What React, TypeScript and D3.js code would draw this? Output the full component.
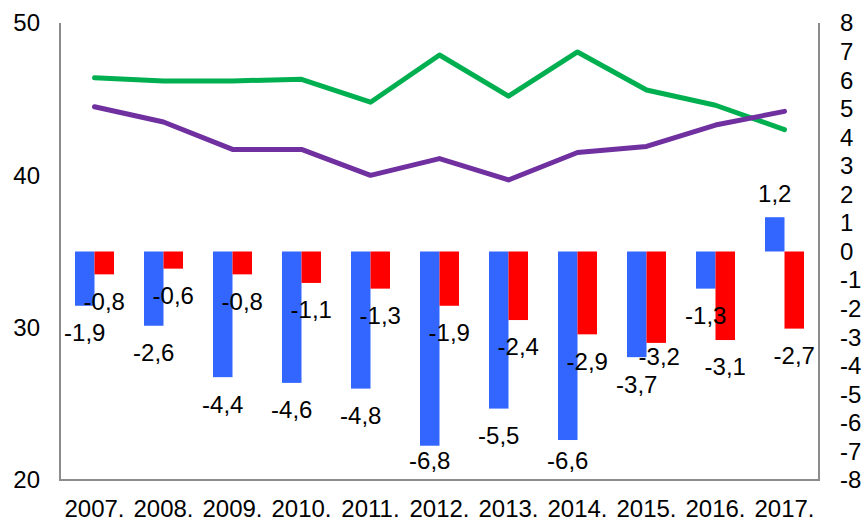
import * as d3 from "d3"

const years = ["2007.", "2008.", "2009.", "2010.", "2011.", "2012.", "2013.", "2014.", "2015.", "2016.", "2017."]
const blueBars = [-1.9, -2.6, -4.4, -4.6, -4.8, -6.8, -5.5, -6.6, -3.7, -1.3, 1.2]
const redBars = [-0.8, -0.6, -0.8, -1.1, -1.3, -1.9, -2.4, -2.9, -3.2, -3.1, -2.7]
const greenLine = [46.4, 46.2, 46.2, 46.3, 44.8, 47.9, 45.2, 48.1, 45.6, 44.6, 43.0]
const purpleLine = [44.5, 43.5, 41.7, 41.7, 40.0, 41.1, 39.7, 41.5, 41.9, 43.3, 44.2]
const leftTicks = [20, 30, 40, 50]
const rightTicks = d3.range(-8, 9)

const fmt = (v: number) => v.toFixed(1).replace(".", ",")

export default function App() {
    const width = 865
    const height = 520
    const plot = { left: 60, right: 819, top: 23, bottom: 480 }

    const x = d3
        .scaleBand<string>()
        .domain(years)
        .range([plot.left, plot.right])
        .paddingInner(0.435)
        .paddingOuter(0.2175)
    const sub = d3.scaleBand<string>().domain(["blue", "red"]).range([0, x.bandwidth()])
    const yL = d3.scaleLinear().domain([20, 50]).range([plot.bottom, plot.top])
    const yR = d3.scaleLinear().domain([-8, 8]).range([plot.bottom, plot.top])

    const line = d3
        .line<number>()
        .x((_, i) => (x(years[i]) ?? 0) + x.bandwidth() / 2)
        .y((d) => yL(d))

    const axisColor = "#8c8c8c"
    const font = "'Liberation Sans', Arial, sans-serif"
    const fs = 24

    const series = [
        { key: "blue", values: blueBars, color: "#3366FF" },
        { key: "red", values: redBars, color: "#FF0000" },
    ]

    // label nudge where Excel moved one to avoid a clash (2015 red)
    const nudge = (key: string, i: number) => (key === "red" && years[i] === "2015." ? { dx: 3, dy: -13 } : { dx: 0, dy: 0 })

    return (
        <svg
            width={width}
            height={height}
            viewBox={`0 0 ${width} ${height}`}
            style={{ position: "absolute", left: 0, top: 0, display: "block", background: "#fff" }}
            fontFamily={font}
        >
            {/* Bars */}
            {series.map((s) =>
                s.values.map((v, i) => {
                    const bx = (x(years[i]) ?? 0) + (sub(s.key) ?? 0)
                    const y0 = yR(0)
                    const y1 = yR(v)
                    return (
                        <rect
                            key={`${s.key}-${i}`}
                            x={bx}
                            y={Math.min(y0, y1)}
                            width={sub.bandwidth()}
                            height={Math.abs(y1 - y0)}
                            fill={s.color}
                        />
                    )
                })
            )}

            {/* Lines */}
            <path d={line(greenLine) ?? ""} fill="none" stroke="#00B050" strokeWidth={5} strokeLinejoin="round" strokeLinecap="round" />
            <path d={line(purpleLine) ?? ""} fill="none" stroke="#7030A0" strokeWidth={5} strokeLinejoin="round" strokeLinecap="round" />

            {/* Bar labels */}
            {series.map((s) =>
                s.values.map((v, i) => {
                    const n = nudge(s.key, i)
                    const cx = (x(years[i]) ?? 0) + (sub(s.key) ?? 0) + sub.bandwidth() / 2 + n.dx
                    const raw = v < 0 ? Math.min(yR(v) + 27, plot.bottom - 19) : yR(v) - 24
                    return (
                        <text
                            key={`l-${s.key}-${i}`}
                            x={cx}
                            y={raw + n.dy}
                            dy="0.35em"
                            textAnchor="middle"
                            fontSize={fs}
                            fill="#000"
                        >
                            {fmt(v)}
                        </text>
                    )
                })
            )}

            {/* Axes */}
            <line x1={plot.left} x2={plot.left} y1={plot.top} y2={plot.bottom} stroke={axisColor} strokeWidth={2} />
            <line x1={plot.right} x2={plot.right} y1={plot.top} y2={plot.bottom} stroke={axisColor} strokeWidth={2} />
            <line x1={plot.left - 1} x2={plot.right + 1} y1={plot.bottom} y2={plot.bottom} stroke={axisColor} strokeWidth={2} />

            {leftTicks.map((t) => (
                <text key={`lt-${t}`} x={40} y={yL(t)} dy="0.35em" textAnchor="end" fontSize={fs} fill="#000">
                    {t}
                </text>
            ))}
            {rightTicks.map((t) => (
                <text key={`rt-${t}`} x={840} y={yR(t)} dy="0.35em" textAnchor="start" fontSize={fs} fill="#000">
                    {t}
                </text>
            ))}
            {years.map((yr) => (
                <text
                    key={yr}
                    x={(x(yr) ?? 0) + x.bandwidth() / 2}
                    y={517}
                    textAnchor="middle"
                    fontSize={fs}
                    fill="#000"
                >
                    {yr}
                </text>
            ))}
        </svg>
    )
}
